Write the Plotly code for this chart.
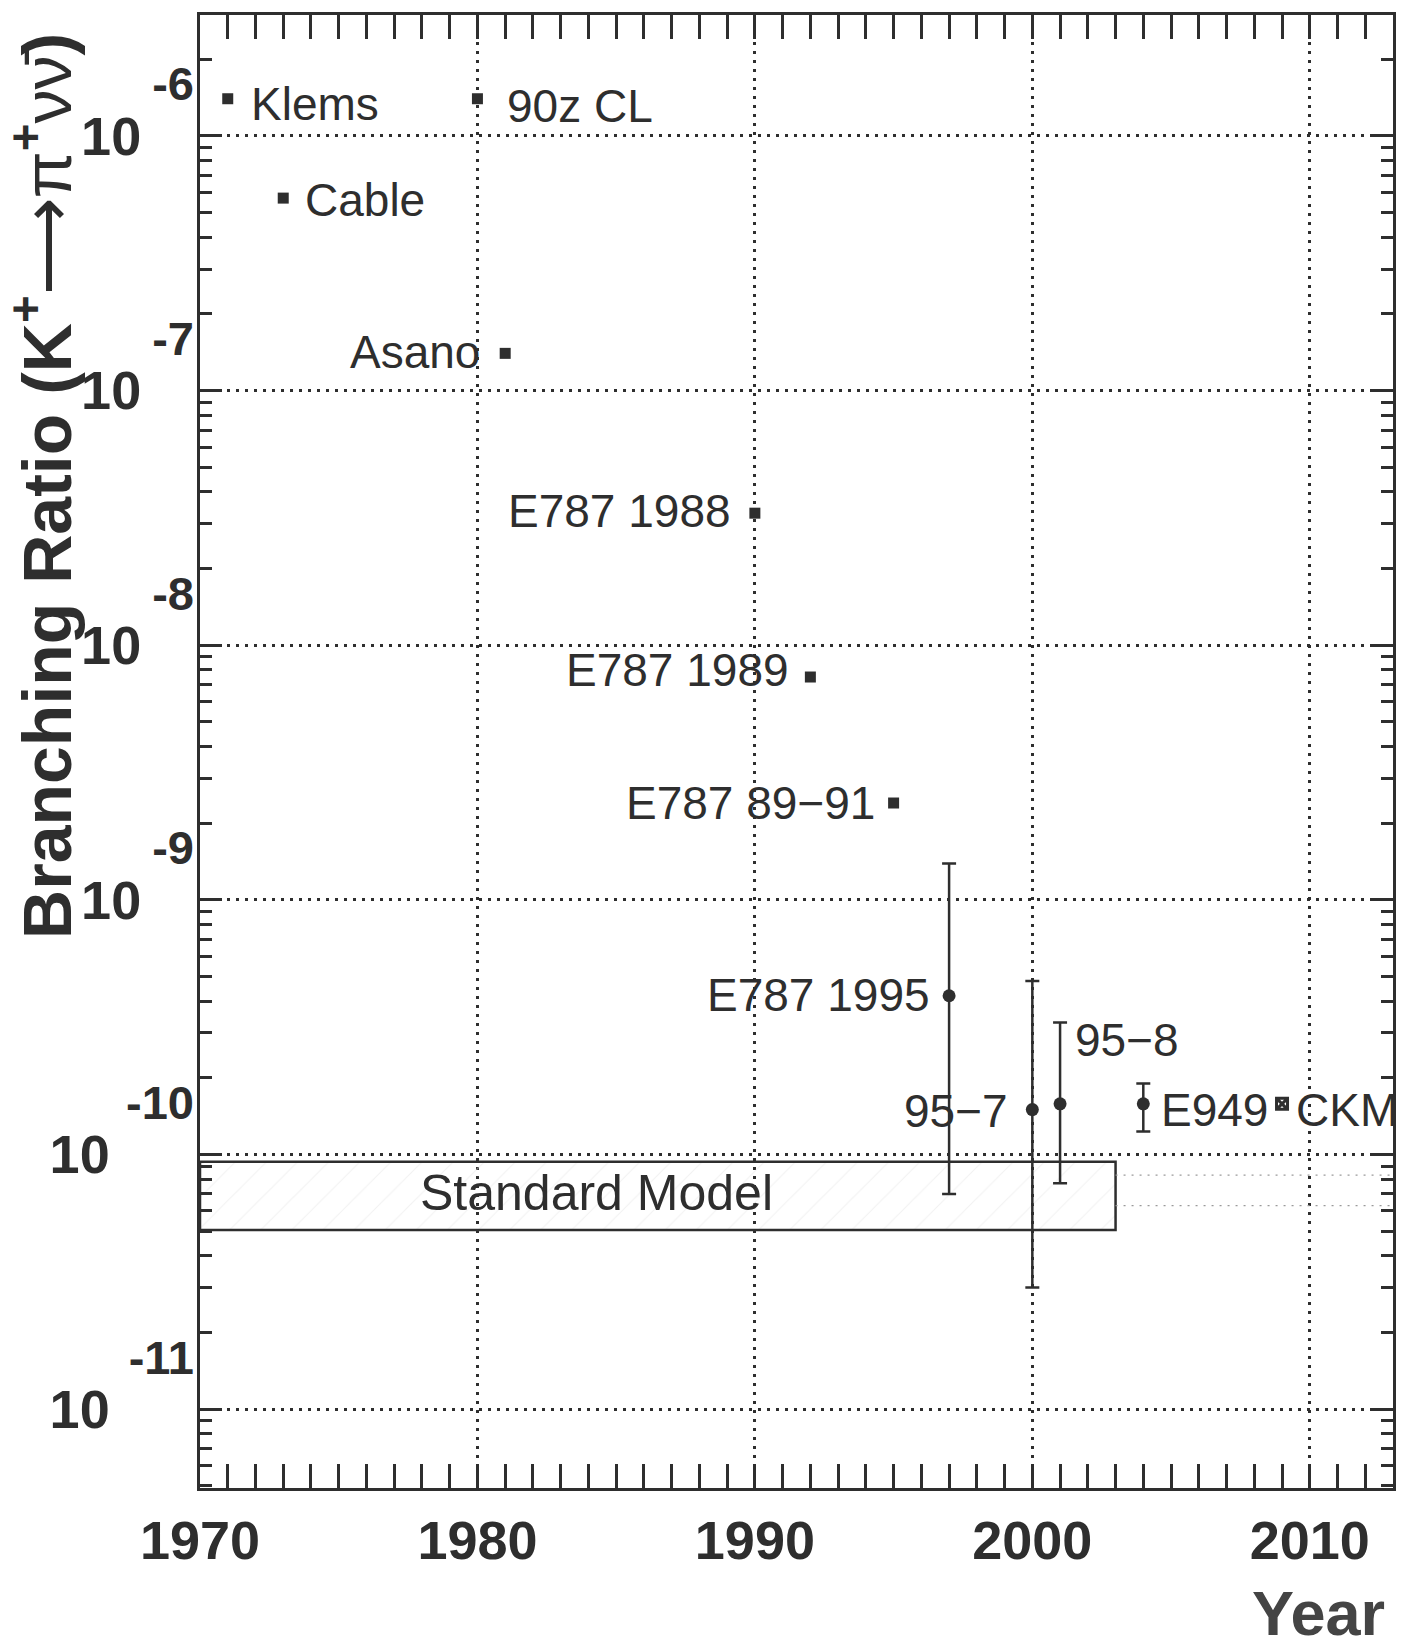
import plotly.graph_objects as go
import math

# 90% CL upper limits on BR(K+ -> pi+ nu nubar)
limit_names = ["Klems", "Cable", "Asano", "E787 1988", "E787 1989", "E787 89−91"]
limit_years = [1971, 1973, 1981, 1990, 1992, 1995]
limit_values = [1.4e-6, 5.7e-7, 1.4e-7, 3.3e-8, 7.5e-9, 2.4e-9]

# observed branching ratios with asymmetric 68% intervals
meas_names = ["E787 1995", "95−7", "95−8", "E949"]
meas_years = [1997, 2000, 2001, 2004]
meas_values = [4.2e-10, 1.5e-10, 1.58e-10, 1.58e-10]
meas_upper = [1.39e-9, 4.8e-10, 3.3e-10, 1.9e-10]
meas_lower = [7.0e-11, 3.0e-11, 7.7e-11, 1.23e-10]

# projected CKM experiment
ckm_names = ["CKM"]
ckm_years = [2009]
ckm_values = [1.58e-10]

# key marker for the limit symbol
key_names = ["90z CL"]
key_years = [1980]
key_values = [1.4e-6]

# Standard Model expectation band
sm_years = [1970, 2003]
sm_band = [5.05e-11, 9.35e-11]
sm_ext_years = [2003, 2013]
sm_ext_levels = [6.3e-11, 8.3e-11]

x_ticks = [1970, 1980, 1990, 2000, 2010]
y_exponents = [-11, -10, -9, -8, -7, -6]
y_range = [-11.31, -5.525]

INK = "#2e2e2e"
SANS = "Liberation Sans, Arial, sans-serif"
LABEL_FONT = dict(family=SANS, size=46, color=INK)

fig = go.Figure()

# Standard Model band (faintly hatched box)
fig.add_trace(go.Scatter(
    x=[sm_years[0], sm_years[1], sm_years[1], sm_years[0], sm_years[0]],
    y=[sm_band[1], sm_band[1], sm_band[0], sm_band[0], sm_band[1]],
    mode="lines", fill="toself", fillcolor="rgba(0,0,0,0)",
    fillpattern=dict(shape="/", fgcolor="#e4e4e4", bgcolor="rgba(0,0,0,0)", size=22, solidity=0.05),
    line=dict(color=INK, width=2.5), hoverinfo="skip"))

# faint dotted continuation of the band (drawn on the exponent-label axis,
# which shares the main axis range)
for lvl in sm_ext_levels:
    fig.add_trace(go.Scatter(
        x=sm_ext_years, y=[lvl, lvl], mode="lines", yaxis="y2",
        line=dict(color="#9a9a9a", width=1.2, dash="2px,6px"), hoverinfo="skip"))

# upper limits
fig.add_trace(go.Scatter(
    x=limit_years, y=limit_values, mode="markers",
    marker=dict(symbol="square", size=11, color=INK)))

# key marker
fig.add_trace(go.Scatter(
    x=key_years, y=key_values, mode="markers",
    marker=dict(symbol="square", size=11, color=INK)))

# measurements with error bars
fig.add_trace(go.Scatter(
    x=meas_years, y=meas_values, mode="markers",
    marker=dict(symbol="circle", size=13, color=INK),
    error_y=dict(type="data", symmetric=False,
                 array=[u - v for u, v in zip(meas_upper, meas_values)],
                 arrayminus=[v - l for v, l in zip(meas_values, meas_lower)],
                 color=INK, thickness=2.5, width=7)))

# projection
fig.add_trace(go.Scatter(
    x=ckm_years, y=ckm_values, mode="markers",
    marker=dict(symbol="square-x-open", size=11, color=INK, line=dict(width=3, color=INK))))

# point labels: (anchor, x offset px, y offset px)
placement = {
    "Klems": ("left", 21, -5),
    "Cable": ("left", 20, -2),
    "Asano": ("right", -23, 1),
    "E787 1988": ("right", -22, 2),
    "E787 1989": ("right", -19, 7),
    "E787 89−91": ("right", -17, 0),
    "E787 1995": ("right", -17, 1),
    "95−7": ("right", -22, -1),
    "95−8": ("left", 13, 64),
    "E949": ("left", 16, -6),
    "CKM": ("left", 12, -6),
    "90z CL": ("left", 28, -7),
}

annotations = []
for names, xs, ys in [(limit_names, limit_years, limit_values),
                      (meas_names, meas_years, meas_values),
                      (ckm_names, ckm_years, ckm_values),
                      (key_names, key_years, key_values)]:
    for n, xv, yv in zip(names, xs, ys):
        anchor, dx, dy = placement[n]
        annotations.append(dict(
            x=xv, y=math.log10(yv), xref="x", yref="y", text=n, showarrow=False,
            xanchor=anchor, yanchor="middle", xshift=dx, yshift=dy, font=LABEL_FONT))

annotations.append(dict(
    x=1984.3, y=math.log10(math.sqrt(sm_band[0] * sm_band[1])) + 0.01, xref="x", yref="y",
    text="Standard Model", showarrow=False, xanchor="center", yanchor="middle",
    font=dict(family=SANS, size=50, color=INK)))

# axis titles
annotations.append(dict(
    x=-0.132, y=0.68, xref="paper", yref="paper", textangle=-90,
    text=("Branching Ratio (K<sup>+</sup><span style='font-weight:normal'>⟶π</span>"
          "<sup>+</sup><span style='font-weight:normal'>νν̄</span>)"),
    showarrow=False, xanchor="center", yanchor="middle",
    font=dict(family=SANS, size=68, color=INK, weight="bold")))
annotations.append(dict(
    x=0.995, y=-0.085, xref="paper", yref="paper", text="Year", showarrow=False,
    xanchor="right", yanchor="middle",
    font=dict(family=SANS, size=63, color="#444", weight="bold")))

axis_common = dict(
    showline=True, linewidth=3, linecolor=INK, mirror="allticks",
    ticks="inside", tickwidth=2.5, tickcolor=INK,
    showgrid=True, gridcolor=INK, gridwidth=2.5, griddash="3px,6px",
    zeroline=False,
    tickfont=dict(family=SANS, size=54, color=INK, weight="bold"),
)

fig.update_xaxes(
    range=[1970, 2013], tickvals=x_ticks, ticktext=[str(t) for t in x_ticks],
    ticklen=24, ticklabelstandoff=3,
    minor=dict(dtick=1, tick0=1970, ticks="inside", ticklen=12, tickwidth=2.5, tickcolor=INK, showgrid=False),
    **axis_common)

# mantissa "10" of each decade label; longer exponents push it further left
fig.update_yaxes(
    type="log", range=y_range,
    tickvals=[10.0 ** e for e in y_exponents],
    ticktext=["10" + ("\u2002\u200a" if e <= -10 else "") for e in y_exponents],
    ticklen=22, ticklabelstandoff=45,
    minor=dict(dtick="D1", ticks="inside", ticklen=12, tickwidth=2.5, tickcolor=INK, showgrid=False),
    **axis_common)

# decade exponents, raised above the mantissa
fig.update_layout(yaxis2=dict(
    type="log", range=y_range, overlaying="y", anchor="x", side="left",
    tickvals=[10.0 ** e for e in y_exponents],
    ticktext=[str(e) for e in y_exponents],
    tickfont=dict(family=SANS, size=47, color=INK, weight="bold"),
    ticks="", showline=False, showgrid=False, zeroline=False,
    ticklabelstandoff=5, ticklabelshift=-52,
))

fig.update_layout(
    width=1411, height=1651,
    margin=dict(l=200, r=18, t=12, b=163),
    plot_bgcolor="white", paper_bgcolor="white",
    showlegend=False, annotations=annotations,
)

fig.write_html("out.html")
